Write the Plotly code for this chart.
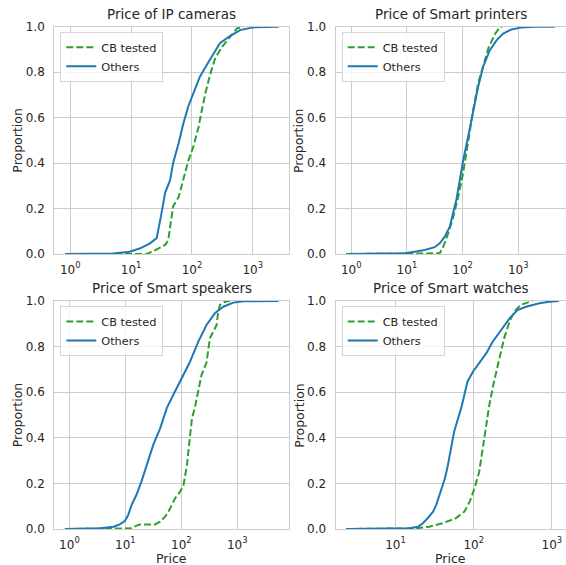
import plotly.graph_objects as go

# ---------------- data ----------------
panel_titles = ["Price of IP cameras", "Price of Smart printers",
                "Price of Smart speakers", "Price of Smart watches"]
series_names = ["CB tested", "Others"]
x_label = "Price"
y_label = "Proportion"

ip_cb_price = [0.82, 18.2, 26.3, 36.3, 40.7, 43.7, 49, 60.3, 72.4, 87.1, 104.7, 128.8,
               144.5, 166, 199.5, 240, 309, 427, 550, 708]
ip_cb_prop = [0, 0, 0.02, 0.04, 0.06, 0.12, 0.21, 0.25, 0.325, 0.41, 0.47, 0.56,
              0.63, 0.707, 0.79, 0.86, 0.91, 0.956, 0.993, 1.0]
ip_ot_price = [0.82, 5, 9.5, 14.1, 20.4, 26.3, 31.6, 36.3, 43.7, 49, 60.3, 72.4, 87.1,
               104.7, 135, 174, 224, 288, 427, 617, 1023, 1700, 2660]
ip_ot_prop = [0, 0.002, 0.01, 0.025, 0.047, 0.07, 0.18, 0.27, 0.325, 0.40, 0.487, 0.575,
              0.65, 0.707, 0.78, 0.83, 0.88, 0.927, 0.96, 0.985, 0.997, 1.0, 1.0]

pr_cb_price = [0.81, 38.9, 44.7, 55, 67.6, 83.2, 102.3, 125.9, 154.9, 190.5, 240, 295,
               389, 468, 513]
pr_cb_prop = [0, 0.003, 0.03, 0.09, 0.16, 0.25, 0.355, 0.50, 0.633, 0.75, 0.84, 0.91,
              0.97, 0.997, 1.0]
pr_ot_price = [0.81, 9.1, 13.8, 20.9, 31.6, 38.9, 47.9, 58.9, 67.6, 77.6, 89.1, 102.3,
               125.9, 154.9, 190.5, 234.4, 309, 407, 537, 759, 1148, 1995, 4570]
pr_ot_prop = [0, 0.003, 0.01, 0.018, 0.03, 0.047, 0.076, 0.12, 0.18, 0.24, 0.325, 0.41,
              0.516, 0.633, 0.736, 0.824, 0.897, 0.94, 0.97, 0.988, 0.997, 1.0, 1.0]

sp_cb_price = [0.83, 12.9, 15.8, 18.2, 33.9, 41.7, 51.3, 58.9, 67.6, 77.6, 95.5, 109.6,
               125.9, 138, 155, 174, 199.5, 229, 282, 324, 372, 427, 457, 490, 603, 741]
sp_cb_prop = [0, 0.003, 0.015, 0.02, 0.02, 0.032, 0.054, 0.076, 0.105, 0.135, 0.164, 0.193,
              0.28, 0.383, 0.485, 0.53, 0.60, 0.675, 0.73, 0.836, 0.865, 0.895, 0.953,
              0.983, 0.997, 1.0]
sp_ot_price = [0.83, 3.55, 6.17, 7.94, 9.77, 11.2, 12.9, 15.8, 19.5, 24, 31.6, 41.7, 55,
               72.4, 102.3, 141, 199.5, 282, 398, 562, 851, 1288, 5500]
sp_ot_prop = [0, 0.003, 0.01, 0.02, 0.035, 0.06, 0.105, 0.15, 0.21, 0.28, 0.37, 0.44, 0.53,
              0.59, 0.66, 0.73, 0.82, 0.895, 0.946, 0.975, 0.993, 0.999, 1.0]

wa_cb_price = [2.33, 18.2, 26.9, 39.8, 58.9, 75.9, 89.1, 102.3, 117.5, 128.8, 144.5, 158.5,
               182, 214, 245, 288, 331, 398, 513, 562]
wa_cb_prop = [0, 0.003, 0.01, 0.025, 0.047, 0.076, 0.12, 0.178, 0.25, 0.34, 0.44, 0.544,
              0.646, 0.75, 0.836, 0.91, 0.953, 0.983, 0.997, 1.0]
wa_ot_price = [2.33, 15.1, 19.3, 22.4, 25.7, 30.2, 33.1, 36.3, 42.7, 46.8, 51.3, 56.2, 63.1,
               69.2, 75.9, 83.2, 97.7, 117.5, 144.5, 174, 224, 288, 363, 468, 692, 933, 1230]
wa_ot_prop = [0, 0.003, 0.01, 0.025, 0.047, 0.076, 0.105, 0.15, 0.22, 0.28, 0.354, 0.427,
              0.485, 0.53, 0.588, 0.646, 0.69, 0.727, 0.77, 0.82, 0.873, 0.924, 0.96, 0.975,
              0.99, 0.997, 1.0]

x_tick_vals = [1, 10, 100, 1000]
x_tick_text = ["10<sup>0</sup>", "10<sup>1</sup>", "10<sup>2</sup>", "10<sup>3</sup>"]
y_tick_vals = [0, 0.2, 0.4, 0.6, 0.8, 1.0]
y_tick_text = ["0.0", "0.2", "0.4", "0.6", "0.8", "1.0"]

# ---------------- layout geometry ----------------
W, H = 566, 565
FONT = "DejaVu Sans"
TXT = "#262626"
GRID = "#cccccc"
GREEN = "#2ca02c"
BLUE = "#1f77b4"

panels = [
    dict(cb=(ip_cb_price, ip_cb_prop), ot=(ip_ot_price, ip_ot_prop),
         px=(54.3, 289.3), py=(26.7, 254), xr=[-0.263, 3.60]),
    dict(cb=(pr_cb_price, pr_cb_prop), ot=(pr_ot_price, pr_ot_prop),
         px=(335.7, 565.5), py=(26.7, 254), xr=[-0.28, 3.85]),
    dict(cb=(sp_cb_price, sp_cb_prop), ot=(sp_ot_price, sp_ot_prop),
         px=(54.3, 289.3), py=(301, 529), xr=[-0.27, 3.93]),
    dict(cb=(wa_cb_price, wa_cb_prop), ot=(wa_ot_price, wa_ot_prop),
         px=(335.7, 565.5), py=(301, 529), xr=[0.234, 3.175]),
]

fig = go.Figure()
annotations = []
layout = {}
for i, p in enumerate(panels):
    n = i + 1
    xa = "x" if n == 1 else f"x{n}"
    ya = "y" if n == 1 else f"y{n}"
    lg = "legend" if n == 1 else f"legend{n}"
    fig.add_trace(go.Scatter(x=p["cb"][0], y=p["cb"][1], mode="lines", name=series_names[0],
                             line=dict(color=GREEN, width=2, dash="7px,3px"),
                             xaxis=xa, yaxis=ya, legend=lg))
    fig.add_trace(go.Scatter(x=p["ot"][0], y=p["ot"][1], mode="lines", name=series_names[1],
                             line=dict(color=BLUE, width=2),
                             xaxis=xa, yaxis=ya, legend=lg))
    x0, x1 = p["px"]
    y0, y1 = p["py"]
    bottom = n > 2
    layout["xaxis" if n == 1 else f"xaxis{n}"] = dict(
        type="log", range=p["xr"], domain=[x0 / W, x1 / W], anchor=ya,
        tickvals=x_tick_vals, ticktext=x_tick_text, ticks="outside", ticklen=4,
        tickcolor="rgba(0,0,0,0)", tickfont=dict(family=FONT, size=12, color=TXT),
        showgrid=True, gridcolor=GRID, gridwidth=1, showline=True, linecolor=GRID,
        linewidth=1.2, mirror=True, zeroline=False, automargin=False,
    )
    layout["yaxis" if n == 1 else f"yaxis{n}"] = dict(
        range=[0, 1], domain=[1 - y1 / H, 1 - y0 / H], anchor=xa,
        tickvals=y_tick_vals, ticktext=y_tick_text, ticks="outside", ticklen=6,
        tickcolor="rgba(0,0,0,0)", tickfont=dict(family=FONT, size=12, color=TXT),
        showgrid=True, gridcolor=GRID, gridwidth=1, showline=True, linecolor=GRID,
        linewidth=1.2, mirror=True, zeroline=False, automargin=False,
    )
    layout[lg] = dict(
        x=(x0 + 6) / W, y=1 - (y0 + 5) / H, xanchor="left", yanchor="top",
        bgcolor="rgba(255,255,255,0.8)", bordercolor="#d5d5d5", borderwidth=1,
        font=dict(family=FONT, size=11.3, color=TXT), tracegroupgap=0, itemwidth=30,
    )
    annotations.append(dict(
        text=panel_titles[i], x=(x0 + x1) / 2 / W, y=1 - (y0 - 13) / H,
        xref="paper", yref="paper", showarrow=False, xanchor="center", yanchor="middle",
        font=dict(family=FONT, size=13.5, color=TXT),
    ))
    annotations.append(dict(
        text=y_label, x=(x0 - 37) / W, y=1 - (y0 + y1) / 2 / H, textangle=-90,
        xref="paper", yref="paper", showarrow=False, xanchor="center", yanchor="middle",
        font=dict(family=FONT, size=12.5, color=TXT),
    ))
    if bottom:
        annotations.append(dict(
            text=x_label, x=(x0 + x1) / 2 / W, y=1 - (y1 + 29) / H, borderpad=0,
            xref="paper", yref="paper", showarrow=False, xanchor="center", yanchor="middle",
            font=dict(family=FONT, size=12.5, color=TXT),
        ))

fig.update_layout(
    width=W, height=H, margin=dict(l=0, r=0, t=0, b=0, autoexpand=False),
    paper_bgcolor="white", plot_bgcolor="white",
    font=dict(family=FONT, color=TXT), annotations=annotations, **layout,
)
fig.write_html("out.html", config={"displayModeBar": False},
               post_script="document.body.style.margin='0px';document.body.style.padding='0px';")
